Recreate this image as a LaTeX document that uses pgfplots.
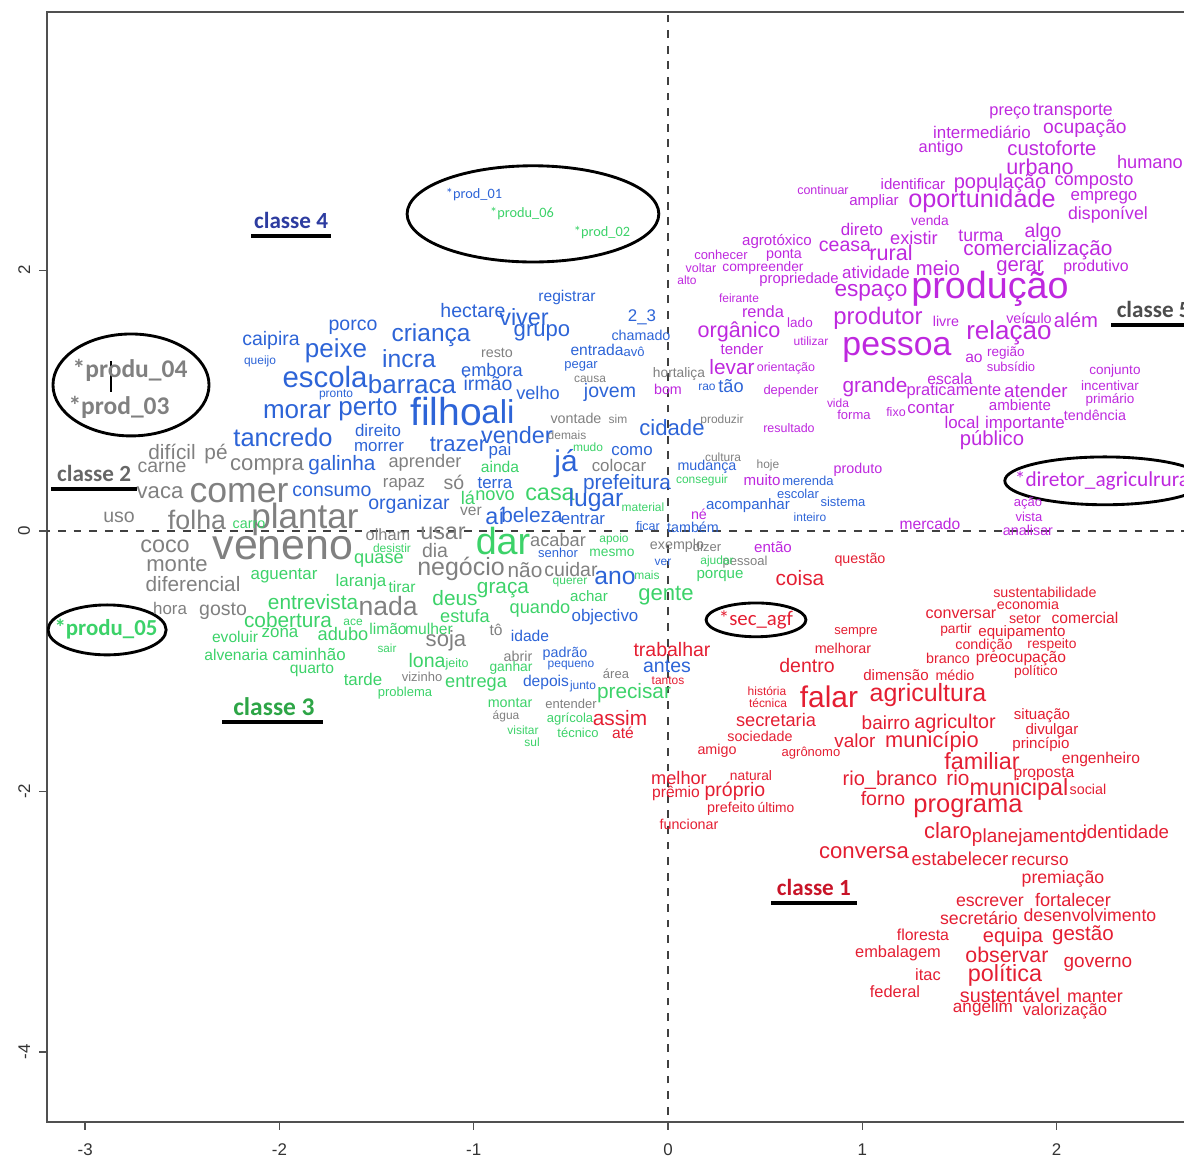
\documentclass[border=0pt]{standalone}
\usepackage{pgfplots}
\pgfplotsset{compat=1.18}
\usepackage{fontspec}
\setmainfont{Liberation Sans}
\newfontfamily\calfont{Carlito}
\definecolor{c1}{RGB}{228,30,50}
\definecolor{c2}{RGB}{128,128,128}
\definecolor{c3}{RGB}{60,210,105}
\definecolor{c4}{RGB}{45,100,215}
\definecolor{c5}{RGB}{190,40,222}
\definecolor{axc}{RGB}{80,80,80}
\pgfplotsset{
  words/.style={only marks, mark=none, point meta=explicit symbolic, nodes near coords,
    visualization depends on={value \thisrow{s}\as\wsize},
    nodes near coords style={anchor=center, inner sep=0pt, text=#1,
      font=\fontsize{\wsize}{\wsize}\selectfont}},
}
\pgfkeys{/pgfplots/table/tbl/.style={/pgfplots/table/x expr=(\thisrow{px}-668)/194.3, /pgfplots/table/y expr=(531-\thisrow{py})/130.3, /pgfplots/table/meta=w, /pgfplots/table/row sep=\\}}
\tikzset{klabel/.style={inner sep=0pt, font=\calfont\bfseries\fontsize{8.9}{9}\selectfont}}
\begin{document}
\begin{tikzpicture}
\begin{axis}[
  scale only axis, x=74.71pt, y=50.10pt,
  xmin=-3.196, xmax=2.75, ymin=-4.536, ymax=3.983,
  axis line style={axc, line width=0.6pt},
  xtick={-3,-2,-1,0,1,2}, ytick={-4,-2,0,2},
  tick align=outside, xtick pos=left, ytick pos=left,
  major tick length=3pt, tick style={axc, line width=0.5pt},
  /pgf/number format/assume math mode=true,
  ticklabel style={font=\fontsize{6.5}{7}\selectfont, text=black!80},
  yticklabel style={rotate=90, anchor=south},
  xticklabel style={yshift=-2pt},
  clip=true,
]
\addplot[dashed, black!75, line width=0.7pt] coordinates {(0,-4.6) (0,4.1)};
\addplot[dashed, black!75, line width=0.7pt] coordinates {(-3.3,0) (2.8,0)};

% classe 5 (magenta)
\addplot[words=c5] table[tbl] {
px py s w \\
1010 113 6.3 preço \\
1073 112 6.8 transporte \\
982 132 6.5 intermediário \\
1085 129 7.4 ocupação \\
941 148 6.3 antigo \\
1052 148 7.8 custoforte \\
1040 167 8.3 urbano \\
1150 162 7 humano \\
823 190 4.8 continuar \\
913 184 5.8 identificar \\
1000 183 7.7 população \\
1094 182 7 composto \\
874 202 5.8 ampliar \\
982 201 9.7 oportunidade \\
1104 198 6.5 emprego \\
1108 215 6.8 disponível \\
930 221 5.3 venda \\
862 230 6.5 direto \\
914 238 7 existir \\
981 236 6.8 turma \\
1043 233 7.5 algo \\
777 242 5.8 agrotóxico \\
845 246 7.5 ceasa \\
891 253 8.3 rural \\
1038 250 8 comercialização \\
721 255 5 conhecer \\
784 255 5.5 ponta \\
701 268 4.8 voltar \\
763 268 5.3 compreender \\
687 280 4.6 alto \\
799 280 5.7 propriedade \\
876 273 6.5 atividade \\
938 268 7.8 meio \\
1020 268 7.8 gerar \\
1096 268 6.1 produtivo \\
990 289 14.5 produção \\
871 293 8.7 espaço \\
739 298 4.6 feirante \\
763 312 6.3 renda \\
800 323 5.2 lado \\
878 318 9.2 produtor \\
946 321 5.5 livre \\
1029 318 5.5 veículo \\
1076 320 7.8 além \\
1009 333 10 relação \\
739 332 8.3 orgânico \\
811 341 4.6 utilizar \\
742 349 5.8 tender \\
897 350 13 pessoa \\
974 358 6 ao \\
1006 353 5.2 região \\
1011 367 5 subsídio \\
732 367 8 levar \\
786 368 4.8 orientação \\
1115 371 5.2 conjunto \\
950 379 6 escala \\
875 387 8 grande \\
954 391 6.3 praticamente \\
1036 391 7.2 atender \\
1110 386 5.2 incentivar \\
1110 400 5.2 primário \\
838 403 4.6 vida \\
1020 405 5.8 ambiente \\
854 415 5 forma \\
896 412 4.8 fixo \\
931 408 6.5 contar \\
1095 415 5.5 tendência \\
791 391 5 depender \\
962 423 6.5 local \\
1025 424 6.5 importante \\
789 428 4.8 resultado \\
992 440 7.8 público \\
858 470 5.5 produto \\
762 480 5.8 muito \\
773 547 5.8 então \\
699 514 5.5 né \\
930 524 6 mercado \\
1028 503 5 ação \\
1029 517 5 vista \\
1028 531 5.5 analisar \\
668 390 5.5 bom \\
1102 481 8.2 {\calfont *diretor\_agriculrura} \\
};

% classe 2 (gray)
\addplot[words=c2] table[tbl] {
px py s w \\
130 370 9.8 {\calfont\bfseries *produ\_04} \\
119 408 9.8 {\calfont\bfseries *prod\_03} \\
172 452 8 difícil \\
216 454 8 pé \\
162 467 7.5 carne \\
160 493 8.5 vaca \\
239 493 13.7 comer \\
119 517 7.5 uso \\
197 520 10.3 folha \\
305 520 13.5 plantar \\
165 546 9 coco \\
283 548 16.5 veneno \\
177 565 8.5 monte \\
193 584 8 diferencial \\
170 609 6.5 hora \\
223 611 7.5 gosto \\
267 467 8.5 compra \\
425 463 7 aprender \\
404 485 6.5 rapaz \\
454 483 7.5 só \\
471 512 6 ver \\
388 535 6.3 olham \\
443 533 9 usar \\
435 551 7.5 dia \\
461 569 9.6 negócio \\
525 570 8 não \\
571 570 7.5 cuidar \\
558 540 7 acabar \\
497 353 5.5 resto \\
576 419 5.5 vontade \\
618 419 4.6 sim \\
567 435 4.6 demais \\
619 466 6.5 colocar \\
590 379 4.6 causa \\
679 374 5.3 hortaliça \\
722 421 4.6 produzir \\
723 457 4.6 cultura \\
768 466 4.6 hoje \\
677 546 5.5 exemplo \\
707 547 5 dizer \\
745 562 5 pessoal \\
388 606 10.2 nada \\
446 641 8.5 soja \\
496 630 6 tô \\
518 657 5.5 abrir \\
422 677 5 vizinho \\
616 674 5 área \\
571 704 5 entender \\
506 716 4.6 água \\
};

% classe 3 (green)
\addplot[words=c3] table[tbl] {
px py s w \\
522 214 5.5 {\calfont *produ\_06} \\
602 233 5.5 {\calfont *prod\_02} \\
106 629 8.8 {\calfont\bfseries *produ\_05} \\
249 525 5.5 carro \\
503 541 14.5 dar \\
284 576 6.5 aguentar \\
379 561 7 quase \\
392 548 4.6 desistir \\
361 582 6.5 laranja \\
402 587 6 tirar \\
313 602 8 entrevista \\
288 620 8 cobertura \\
353 622 4.6 ace \\
343 634 7 adubo \\
388 629 6 limão \\
429 629 6 mulher \\
235 637 6 evoluir \\
280 633 6.5 zona \\
236 655 6 alvenaria \\
309 655 6.5 caminhão \\
387 648 4.5 sair \\
312 670 6 quarto \\
363 680 6.5 tarde \\
427 661 7.5 lona \\
457 664 4.8 jeito \\
405 693 5 problema \\
511 668 5.3 ganhar \\
476 684 7 entrega \\
510 703 5.5 montar \\
570 719 5 agrícola \\
523 730 4.6 visitar \\
532 742 4.6 sul \\
578 733 5 técnico \\
634 693 8 precisar \\
455 598 8 deus \\
503 590 8 graça \\
465 616 7 estufa \\
540 609 7 quando \\
589 596 5.8 achar \\
614 540 4.6 apoio \\
612 553 5.3 mesmo \\
570 583 4.6 querer \\
647 575 4.6 mais \\
666 596 8.5 gente \\
717 562 4.6 ajudar \\
720 576 5.8 porque \\
702 481 4.6 conseguir \\
643 507 4.6 material \\
500 467 6 ainda \\
495 496 7 novo \\
468 498 7 lá \\
550 494 9 casa \\
588 447 4.6 mudo \\
};

% classe 4 (blue)
\addplot[words=c4] table[tbl] {
px py s w \\
474 195 5.5 {\calfont *prod\_01} \\
473 311 7.5 hectare \\
524 317 9 viver \\
567 298 6 registrar \\
542 333 8.5 grupo \\
642 317 6.5 2\_3 \\
641 335 5.5 chamado \\
431 335 9.4 criança \\
353 327 7.5 porco \\
271 341 7.5 caipira \\
336 351 10 peixe \\
409 359 9.5 incra \\
597 350 6 entrada \\
634 352 5 avô \\
260 362 4.6 queijo \\
325 377 11.3 escola \\
492 370 7 embora \\
581 366 5 pegar \\
412 384 10 barraca \\
488 384 7.5 irmão \\
538 393 7 velho \\
610 393 7.5 jovem \\
336 395 4.6 pronto \\
297 412 10 morar \\
368 410 10 perto \\
446 412 15 filho \\
498 412 12.7 ali \\
378 431 6.5 direito \\
283 438 9.8 tancredo \\
379 447 6.5 morrer \\
458 445 8.5 trazer \\
517 435 9 vender \\
500 451 6.5 pai \\
672 428 8.5 cidade \\
632 451 6.5 como \\
342 465 8 galinha \\
566 464 11.5 já \\
495 483 6.5 terra \\
332 491 7.5 consumo \\
409 505 7.5 organizar \\
627 484 8 prefeitura \\
596 500 9.5 lugar \\
495 516 9 aí \\
532 515 8 beleza \\
583 519 6.5 entrar \\
648 526 4.8 ficar \\
693 527 5.5 também \\
558 553 5 senhor \\
615 578 9.5 ano \\
605 617 6.5 objectivo \\
530 636 6 idade \\
565 654 5.5 padrão \\
571 666 4.6 pequeno \\
546 683 6 depois \\
583 687 4.6 junto \\
667 666 7.5 antes \\
707 467 5.5 mudança \\
808 481 5 merenda \\
798 494 5 escolar \\
748 506 5.8 acompanhar \\
810 517 4.6 inteiro \\
843 502 5 sistema \\
707 387 4.6 rao \\
731 386 7 tão \\
663 562 4.6 ver \\
};

% classe 1 (red)
\addplot[words=c1] table[tbl] {
px py s w \\
756 620 8 {\calfont *sec\_agf} \\
800 578 8 coisa \\
860 560 5.5 questão \\
672 650 7.5 trabalhar \\
668 681 4.6 tantos \\
856 632 5 sempre \\
843 649 5.5 melhorar \\
807 666 7.5 dentro \\
896 675 5.8 dimensão \\
955 675 5.5 médio \\
1045 593 5.5 sustentabilidade \\
1028 605 5.5 economia \\
961 614 6.2 conversar \\
1025 619 5.5 setor \\
1085 618 6 comercial \\
956 630 5.3 partir \\
1022 633 5.8 equipamento \\
984 646 5.5 condição \\
1052 645 5.3 respeito \\
948 659 5.5 branco \\
1021 659 6 preocupação \\
1036 672 5.3 político \\
767 691 4.6 história \\
768 703 4.6 técnica \\
829 697 11.5 falar \\
928 695 9.6 agricultura \\
776 720 7 secretaria \\
886 723 7.3 bairro \\
955 724 7.6 agricultor \\
1042 716 5.8 situação \\
1052 731 5.8 divulgar \\
1041 745 5.8 princípio \\
760 737 5.5 sociedade \\
717 751 5.5 amigo \\
811 753 5 agrônomo \\
855 741 7.3 valor \\
932 742 8.4 município \\
982 761 9 familiar \\
1101 760 6 engenheiro \\
890 780 7.7 rio\_branco \\
958 778 8 rio \\
1044 774 6 proposta \\
679 778 7 melhor \\
751 776 5.3 natural \\
1019 790 9 municipal \\
1088 790 5.5 social \\
676 794 6 prêmio \\
735 791 7.5 próprio \\
883 799 7.5 forno \\
968 808 9.8 programa \\
731 809 5.5 prefeito \\
776 808 5.3 último \\
689 825 5.5 funcionar \\
948 831 8.5 claro \\
1029 838 7.3 planejamento \\
1126 832 7.2 identidade \\
864 853 8.5 conversa \\
960 859 7.2 estabelecer \\
1040 861 6.6 recurso \\
1063 879 6.8 premiação \\
990 902 6.8 escrever \\
1073 900 7 fortalecer \\
979 918 6.8 secretário \\
1090 915 6.8 desenvolvimento \\
923 935 6.1 floresta \\
1013 937 7.7 equipa \\
1083 935 7.9 gestão \\
898 953 6.3 embalagem \\
1007 955 8.2 observar \\
1098 965 7.3 governo \\
928 975 6.3 itac \\
1005 975 9 política \\
895 992 6.3 federal \\
1010 995 7.6 sustentável \\
1095 997 6.9 manter \\
983 1008 6.6 angelim \\
1065 1011 6.4 valorização \\
623 733 6 até \\
620 718 8 assim \\
};

% class labels
\node[klabel, text={rgb,255:red,45;green,60;blue,160}] (k4) at (axis cs:-1.940,2.380) {classe 4};
\node[klabel, text=black!60] (k2) at (axis cs:-2.954,0.437) {classe 2};
\node[klabel, font=\calfont\bfseries\fontsize{9.8}{10}\selectfont, text={rgb,255:red,45;green,165;blue,70}] (k3) at (axis cs:-2.028,-1.35) {classe 3};
\node[klabel, text=black!70] (k5) at (axis cs:2.50,1.696) {classe 5};
\node[klabel, text={rgb,255:red,200;green,20;blue,40}] (k1) at (axis cs:0.751,-2.74) {classe 1};
\draw[line width=1.5pt] ([xshift=-2pt,yshift=-2.6pt]k1.base west) -- ([xshift=2pt,yshift=-2.6pt]k1.base east);
\draw[line width=1.5pt] ([xshift=-2pt,yshift=-2.6pt]k2.base west) -- ([xshift=2pt,yshift=-2.6pt]k2.base east);
\draw[line width=1.5pt] ([xshift=-4pt,yshift=-2.6pt]k3.base west) -- ([xshift=3pt,yshift=-2.6pt]k3.base east);
\draw[line width=1.5pt] ([xshift=-1pt,yshift=-2.6pt]k4.base west) -- ([xshift=1pt,yshift=-2.6pt]k4.base east);
\draw[line width=1.5pt] ([xshift=-2pt,yshift=-2.6pt]k5.base west) -- ([xshift=2pt,yshift=-2.6pt]k5.base east);
% ellipses
\draw[line width=1.1pt] (axis cs:-2.764,1.120) ellipse [x radius=30pt, y radius=19.6pt];
\draw[line width=1.1pt] (axis cs:-0.695,2.433) ellipse [x radius=48.4pt, y radius=18.5pt];
\draw[line width=1.1pt] (axis cs:-2.887,-0.760) ellipse [x radius=22.7pt, y radius=9.6pt];
\draw[line width=1.1pt] (axis cs:0.453,-0.683) ellipse [x radius=19.2pt, y radius=6.5pt];
\draw[line width=1.1pt] (axis cs:2.249,0.384) ellipse [x radius=38.5pt, y radius=9.2pt];
\draw[line width=0.6pt] (axis cs:-2.866,1.304) -- (axis cs:-2.866,1.066);
\coordinate (SW) at (axis cs:-3.196,-4.536);
\coordinate (NE) at (axis cs:2.656,3.983);
\end{axis}
\pgfresetboundingbox
\path ([shift={(-18.1pt,-13.85pt)}]SW) rectangle ([yshift=4.6pt]NE);
\end{tikzpicture}
\end{document}
